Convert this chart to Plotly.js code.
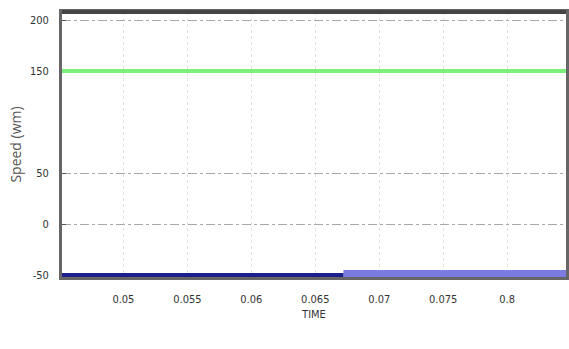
<!DOCTYPE html>
<html>
<head>
<meta charset="utf-8">
<script src="https://cdn.plot.ly/plotly-3.0.1.min.js"></script>
<style>
  html, body { margin: 0; padding: 0; background: #fff; }
  #chart { width: 569px; height: 349px; }
</style>
</head>
<body>
<div id="chart"></div>
<script>
// Rotor speed traces over the simulation window
const timeRef = [0.0452, 0.0846];
const speedRef = [150, 150];

const timeStart = [0.0452, 0.0672];
const speedStart = [-50, -50];

const timeAfter = [0.0672, 0.0846];
const speedAfter = [-48.5, -48.5];

// Axis ticks as printed on the plot
const xTickVals = [0.05, 0.055, 0.06, 0.065, 0.07, 0.075, 0.08];
const xTickText = ['0.05', '0.055', '0.06', '0.065', '0.07', '0.075', '0.8'];
const yTickVals = [-50, 0, 50, 150, 200];
const yTickText = ['-50', '0', '50', '150', '200'];

const narrow = '"Liberation Sans Narrow", "DejaVu Sans Condensed", "Liberation Sans", Arial, sans-serif';

const traces = [
  { x: timeRef, y: speedRef, mode: 'lines', line: { color: '#7cf07c', width: 4 }, hoverinfo: 'skip' },
  { x: timeAfter, y: speedAfter, mode: 'lines', line: { color: '#7b7be0', width: 7 }, hoverinfo: 'skip' },
  { x: timeStart, y: speedStart, mode: 'lines', line: { color: '#1e1e8c', width: 4 }, hoverinfo: 'skip' }
];

const layout = {
  width: 569,
  height: 349,
  margin: { l: 62, r: 3, t: 12, b: 72 },
  paper_bgcolor: '#ffffff',
  plot_bgcolor: '#ffffff',
  showlegend: false,
  font: { family: narrow, size: 11, color: '#333' },
  xaxis: {
    range: [0.0452, 0.0846],
    tickvals: xTickVals,
    ticktext: xTickText,
    ticks: 'inside',
    ticklen: 4,
    tickcolor: '#555',
    ticklabelstandoff: 10,
    showgrid: true,
    gridcolor: '#e2e2e2',
    griddash: 'dot',
    gridwidth: 1,
    zeroline: false,
    showline: true,
    mirror: true,
    linecolor: '#666',
    linewidth: 3,
    layer: 'below traces',
    title: { text: 'TIME', font: { family: narrow, size: 11, color: '#333' }, standoff: 6 }
  },
  yaxis: {
    range: [-52, 208],
    tickvals: yTickVals,
    ticktext: yTickText,
    ticks: 'inside',
    ticklen: 4,
    tickcolor: '#555',
    ticklabelstandoff: 8,
    showgrid: true,
    gridcolor: '#a8a8a8',
    griddash: 'dashdot',
    gridwidth: 1,
    zeroline: false,
    showline: true,
    mirror: true,
    linecolor: '#666',
    linewidth: 3,
    layer: 'below traces',
    title: { text: 'Speed (wm)', font: { family: '"Open Sans", "DejaVu Sans", sans-serif', size: 14, color: '#555' }, standoff: 6 }
  },
  shapes: [
    // heavier top border
    { type: 'line', xref: 'paper', yref: 'paper', x0: 0, x1: 1, y0: 1, y1: 1,
      line: { color: '#444', width: 4 }, layer: 'above' }
  ]
};

Plotly.newPlot('chart', traces, layout, { displayModeBar: false, staticPlot: true });
</script>
</body>
</html>
